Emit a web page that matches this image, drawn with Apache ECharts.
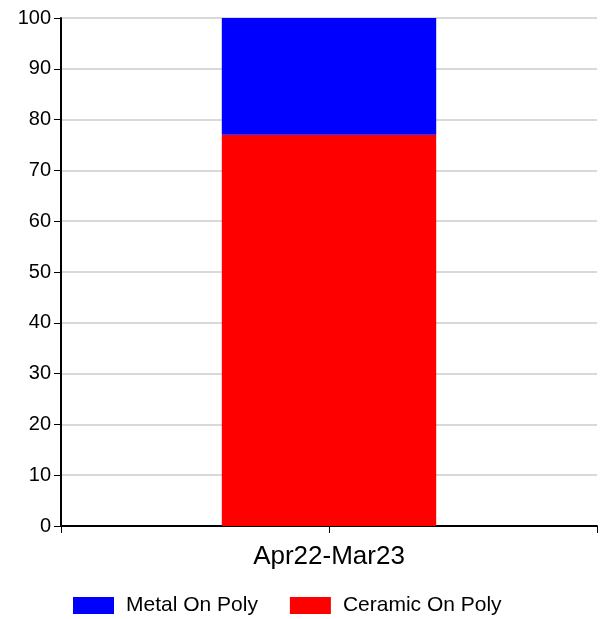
<!DOCTYPE html>
<html><head><meta charset="utf-8">
<script src="https://cdn.jsdelivr.net/npm/echarts@6/dist/echarts.min.js"></script>
<style>html,body{margin:0;padding:0;background:#fff}#c{width:602px;height:619px}</style>
</head><body><div id="c"></div>
<script>
const categories = ['Apr22-Mar23'];
const metalOnPoly = [23];
const ceramicOnPoly = [77];
const seriesNames = ['Metal On Poly', 'Ceramic On Poly'];

const chart = echarts.init(document.getElementById('c'));
const font = 'Liberation Sans, Arial, sans-serif';
chart.setOption({
  animation: false,
  grid: { left: 61, right: 5, top: 18, bottom: 93, containLabel: false },
  legend: {
    data: seriesNames, top: 595, left: 73, padding: 0,
    itemWidth: 41, itemHeight: 17, itemGap: 32,
    icon: 'rect',
    textStyle: { fontFamily: font, fontSize: 21, color: '#000', padding: [0, 0, 0, 7] }
  },
  xAxis: [{
    type: 'category', data: categories,
    axisLine: { lineStyle: { color: '#000', width: 2 } },
    axisTick: { show: false },
    axisLabel: { fontFamily: font, fontSize: 26, color: '#000', margin: 18 }
  }, {
    type: 'value', min: 0, max: 2, interval: 1, position: 'bottom',
    axisLine: { show: false },
    axisTick: { show: true, length: 7, lineStyle: { color: '#000', width: 1 } },
    axisLabel: { show: false }, splitLine: { show: false }
  }],
  yAxis: {
    type: 'value', min: 0, max: 100, interval: 10,
    axisLine: { show: true, lineStyle: { color: '#000', width: 2 } },
    axisTick: { show: true, length: 7, lineStyle: { color: '#000' } },
    axisLabel: { fontFamily: font, fontSize: 20, color: '#000', margin: 10 },
    splitLine: { lineStyle: { color: '#d9d9d9', width: 2 } }
  },
  series: [
    { name: seriesNames[1], type: 'bar', stack: 's', data: ceramicOnPoly, barWidth: '40%', itemStyle: { color: '#ff0000' } },
    { name: seriesNames[0], type: 'bar', stack: 's', data: metalOnPoly, barWidth: '40%', itemStyle: { color: '#0000ff' } }
  ]
});
</script></body></html>
